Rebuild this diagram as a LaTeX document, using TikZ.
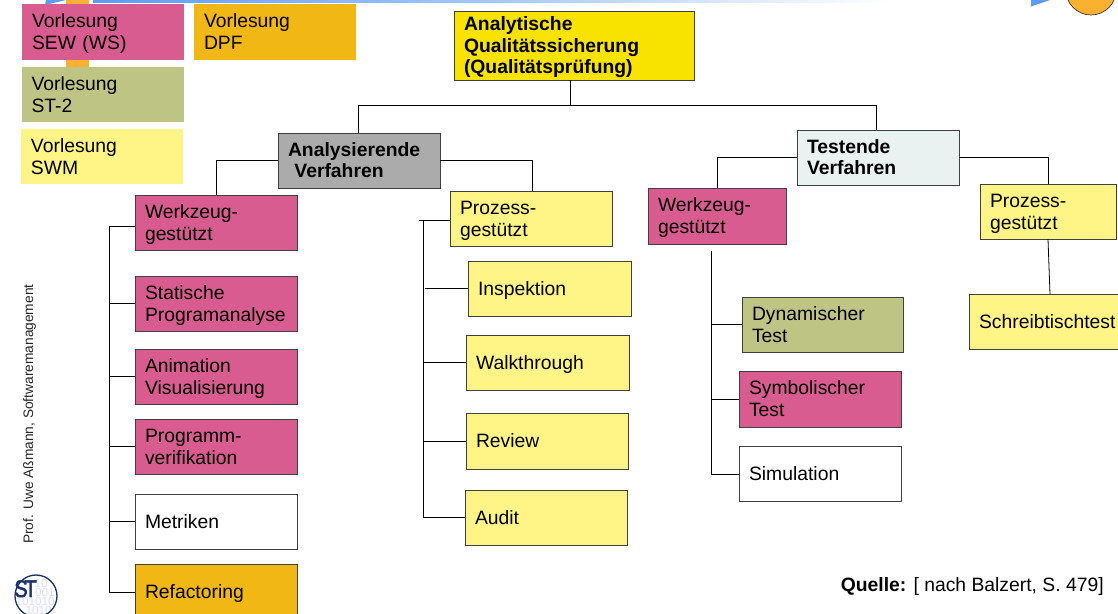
\documentclass[tikz,border=0pt]{standalone}
\usepackage{fontspec}
\setmainfont{Liberation Sans}
\newfontfamily\logofont[FakeBold=2]{Liberation Sans}
\definecolor{pinkbox}{HTML}{D85C8F}
\definecolor{yellowbox}{HTML}{FFF485}
\definecolor{olivebox}{HTML}{BEC484}
\definecolor{orangebox}{HTML}{F1B715}
\definecolor{titlebox}{HTML}{F8E300}
\definecolor{graybox}{HTML}{ABABAB}
\definecolor{palebox}{HTML}{EAF1F1}
\definecolor{barorange}{HTML}{FAB12F}
\definecolor{barblue}{HTML}{5B9BF5}
\definecolor{logoblue}{HTML}{1A3468}
\newcommand{\bx}[7]{\node[box,#6,minimum width=#4*0.75pt,minimum height=#5*0.75pt,text width=(#4-20)*0.75pt] (#1) at ({#2+#4/2},{#3+#5/2}) {\rule{0pt}{13.1pt}#7\rule[-3.1pt]{0pt}{3.1pt}};}
\tikzset{
  box/.style={draw=black!75,line width=0.6pt,inner xsep=7.5pt,inner ysep=0pt,outer sep=0pt,align=left,
    font=\fontsize{14.5}{16.6}\selectfont},
  flat/.style={draw=none},
  pinkfill/.style={fill=pinkbox},
  yellowfill/.style={fill=yellowbox},
  olivefill/.style={fill=olivebox},
  orangefill/.style={fill=orangebox},
  whitefill/.style={fill=white},
  heading/.style={font=\fontsize{14.5}{16.2}\selectfont\bfseries},
  wire/.style={draw=black,line width=0.6pt},
  digit/.style={inner sep=0pt,anchor=base east,text=blue!15,font=\fontsize{8.8}{9}\selectfont},
}
\begin{document}
\begin{tikzpicture}[x=0.75pt,y=-0.75pt]
\useasboundingbox (0,0) rectangle (1118,614);
\clip (0,0) rectangle (1118,614);
% decoration at the top edge
\fill[barorange] (66,0) rectangle (89,67);
\fill[left color=barblue,right color=white,middle color=barblue!55] (93,0) rectangle (890,2.5);
\fill[barblue] (45,5) -- (66,0) -- (46,0) -- cycle;
\fill[barblue] (1031,6.5) -- (1050,0) -- (1031,0) -- cycle;
\draw[fill=barorange,draw=black!80,line width=0.5pt] (1091,-11) ellipse (25.5 and 26);
% boxes
\bx{sew}{22}{4}{162}{56}{flat,pinkfill}{Vorlesung\\SEW (WS)}
\bx{dpf}{194}{4}{162}{56}{flat,orangefill}{Vorlesung\\DPF}
\bx{st}{21.5}{67}{162.5}{55}{flat,olivefill}{Vorlesung\\ST-2}
\bx{swm}{21}{129}{162}{55}{flat,yellowfill}{Vorlesung\\SWM}
\bx{qs}{454}{11}{240}{69}{fill=titlebox,heading}{Analytische\\Qualitätssicherung\\(Qualitätsprüfung)}
\bx{ana}{278}{133}{162}{55}{fill=graybox,heading}{Analysierende\\\ Verfahren}
\bx{tst}{797}{130}{162}{55}{fill=palebox,heading}{Testende\\Verfahren}
\bx{wl}{135}{195}{162}{55}{pinkfill}{Werkzeug-\\gestützt}
\bx{pl}{450}{191}{162}{55}{yellowfill}{Prozess-\\gestützt}
\bx{insp}{468}{261}{163}{55}{yellowfill}{Inspektion}
\bx{walk}{466}{335}{163}{55}{yellowfill}{Walkthrough}
\bx{rev}{466}{413}{162}{56}{yellowfill}{Review}
\bx{aud}{465}{490}{162}{55}{yellowfill}{Audit}
\bx{stat}{135}{276}{162}{55}{pinkfill}{Statische\\Programanalyse}
\bx{anim}{135}{349}{162}{55}{pinkfill}{Animation\\Visualisierung}
\bx{prog}{135}{419}{162}{55}{pinkfill}{Programm-\\verifikation}
\bx{met}{135}{494}{162}{55}{whitefill}{Metriken}
\bx{ref}{135}{564}{162}{55}{orangefill}{Refactoring}
\bx{wr}{648}{188}{138}{56}{pinkfill}{Werkzeug-\\gestützt}
\bx{pr}{980}{184}{136}{55}{yellowfill}{Prozess-\\gestützt}
\bx{dyn}{742}{297}{161}{55}{olivefill}{Dynamischer\\Test}
\bx{sym}{739}{371}{162}{56}{pinkfill}{Symbolischer\\Test}
\bx{sim}{739}{446}{162}{55}{whitefill}{Simulation}
\bx{sch}{969}{294}{175}{55}{yellowfill}{Schreibtischtest}
% junctions
\coordinate (top) at (570,105);
\coordinate (topl) at (358,105);
\coordinate (topr) at (876,105);
\coordinate (wlc) at (216,160);
\coordinate (plc) at (532,160);
\coordinate (wrc) at (717,157);
\coordinate (prc) at (1048,157);
\coordinate (tl) at (109,226);
\coordinate (tlb) at (109,592);
\coordinate (tp) at (423,220);
\coordinate (tpe) at (419,220);
\coordinate (tpb) at (423,517);
\coordinate (tr) at (711,251);
\coordinate (trb) at (711,474);
\coordinate (pra) at (1048,239);
\coordinate (prb) at (1050,294);
% connectors
\draw[wire] (qs.south -| top) -- (top);
\draw[wire] (topl) -- (topr);
\draw[wire] (topl) -- (topl |- ana.north);
\draw[wire] (topr) -- (topr |- tst.north);
\draw[wire] (ana.west |- wlc) -- (wlc) -- (wlc |- wl.north);
\draw[wire] (ana.east |- plc) -- (plc) -- (plc |- pl.north);
\draw[wire] (tst.west |- wrc) -- (wrc) -- (wrc |- wr.north);
\draw[wire] (tst.east |- prc) -- (prc) -- (prc |- pr.north);
\draw[wire] (pra) -- (prb);
\draw[wire] (wl.west |- tl) -- (tl) -- (tlb) -- (ref.west |- tlb);
\draw[wire] (tl |- stat.west) -- (stat.west);
\draw[wire] (tl |- anim.west) -- (anim.west);
\draw[wire] (tl |- prog.west) -- (prog.west);
\draw[wire] (tl |- met.west) -- (met.west);
\draw[wire] (pl.west |- tpe) -- (tpe);
\draw[wire] (tp) -- (tpb) -- (aud.west |- tpb);
\draw[wire] (tp |- insp.west) ++(2,0) -- (insp.west);
\draw[wire] (tp |- walk.west) -- (walk.west);
\draw[wire] (tp |- rev.west) -- (rev.west);
\draw[wire] (tr) -- (trb) -- (sim.west |- trb);
\draw[wire] (tr |- dyn.west) -- (dyn.west);
\draw[wire] (tr |- sym.west) -- (sym.west);
% margin text
\node[rotate=90,anchor=base west,inner sep=0pt,font=\fontsize{10.3}{12}\selectfont,text=black!85] (prof) at (33,544) {Prof. Uwe Aßmann, Softwaremanagement};
\node[anchor=base east,inner sep=0pt,font=\fontsize{14.5}{16}\selectfont] (src) at (1104,591) {\textbf{Quelle:} [ nach Balzert, S. 479]};
% logo
\begin{scope}
\clip (36,596) circle (21);
\node[digit] (d1) at (48,587) {10};
\node[digit] (d2) at (55,596) {001};
\node[digit] (d3) at (55,605) {101010};
\node[digit] (d4) at (52,614) {1010};
\end{scope}
\draw[logoblue,line width=1pt] (36,596) circle (21);
\node[inner sep=0pt,anchor=base west,text=logoblue,xscale=0.85,font=\logofont\fontsize{18}{18}\selectfont] (logo) at (14,597) {S\kern-3pt T};
\end{tikzpicture}
\end{document}
